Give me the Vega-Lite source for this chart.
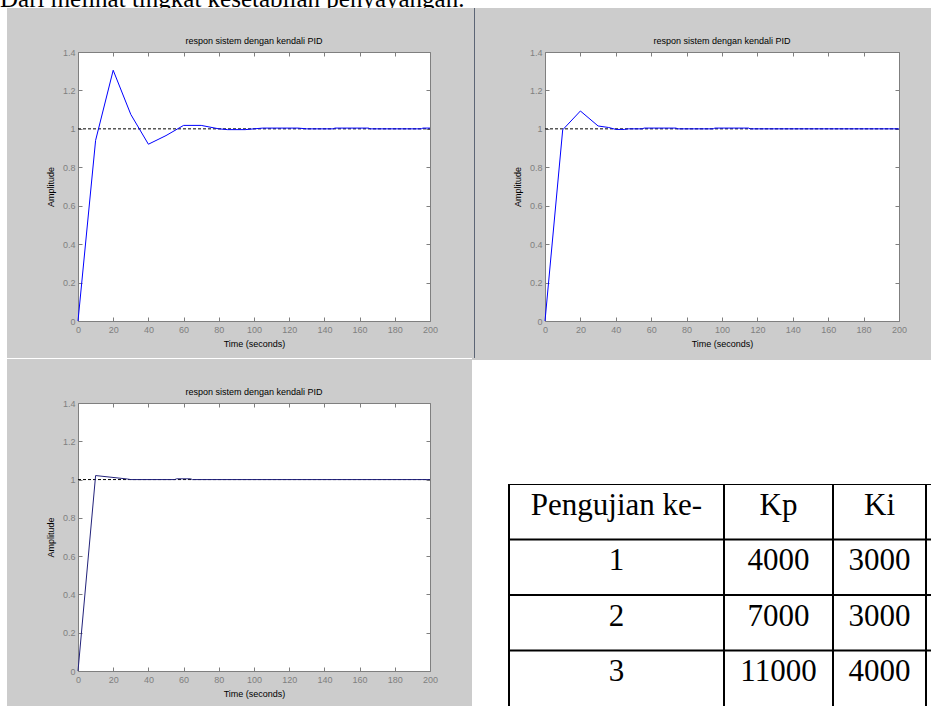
{
  "$schema": "https://vega.github.io/schema/vega-lite/v6.json",
  "background": "#cccccc",
  "padding": 0,
  "autosize": {"type": "pad"},
  "spacing": 0,
  "config": {
    "view": {"stroke": null},
    "font": "Liberation Sans",
    "concat": {"spacing": 0},
    "axis": {
      "labelColor": "#7f7f7f", "labelFont": "Liberation Sans", "labelFontSize": 9,
      "tickColor": "#7f7f7f", "tickWidth": 1,
      "titleColor": "black", "titleFont": "Liberation Sans", "titleFontSize": 9, "titleFontWeight": "normal",
      "grid": false, "domain": false
    },
    "title": {"font": "Liberation Sans", "fontSize": 9, "fontWeight": "normal", "color": "black", "offset": 2, "anchor": "middle", "frame": "group"}
  },
  "datasets": {
    "p1": [
      {"t": 0, "amp": 0}, {"t": 10, "amp": 0.94}, {"t": 20, "amp": 1.305}, {"t": 30, "amp": 1.075},
      {"t": 40, "amp": 0.92}, {"t": 50, "amp": 0.965}, {"t": 60, "amp": 1.018}, {"t": 70, "amp": 1.018},
      {"t": 80, "amp": 1.0}, {"t": 85, "amp": 0.996}, {"t": 95, "amp": 0.996}, {"t": 100, "amp": 1.0},
      {"t": 105, "amp": 1.004}, {"t": 125, "amp": 1.004}, {"t": 130, "amp": 1.0}, {"t": 145, "amp": 1.0},
      {"t": 146, "amp": 1.004}, {"t": 165, "amp": 1.004}, {"t": 166, "amp": 1.0}, {"t": 195, "amp": 1.0},
      {"t": 196, "amp": 1.004}, {"t": 200, "amp": 1.004}
    ],
    "p2": [
      {"t": 0, "amp": 0}, {"t": 10, "amp": 0.995}, {"t": 20, "amp": 1.093}, {"t": 30, "amp": 1.015},
      {"t": 36, "amp": 1.007}, {"t": 40, "amp": 0.997}, {"t": 45, "amp": 0.997}, {"t": 47, "amp": 1.0},
      {"t": 55, "amp": 1.0}, {"t": 56, "amp": 1.004}, {"t": 74, "amp": 1.004}, {"t": 75, "amp": 1.0},
      {"t": 95, "amp": 1.0}, {"t": 96, "amp": 1.004}, {"t": 115, "amp": 1.004}, {"t": 116, "amp": 1.0},
      {"t": 200, "amp": 1.0}
    ],
    "p3": [
      {"t": 0, "amp": 0}, {"t": 10, "amp": 1.021}, {"t": 28, "amp": 1.003}, {"t": 30, "amp": 1.0},
      {"t": 55, "amp": 1.0}, {"t": 56, "amp": 1.004}, {"t": 64, "amp": 1.004}, {"t": 65, "amp": 1.0},
      {"t": 200, "amp": 1.0}
    ],
    "tab": [
      {"row": "h", "no": "Pengujian ke-", "kp": "Kp", "ki": "Ki"},
      {"row": "1", "no": "1", "kp": "4000", "ki": "3000"},
      {"row": "2", "no": "2", "kp": "7000", "ki": "3000"},
      {"row": "3", "no": "3", "kp": "11000", "ki": "4000"}
    ]
  },
  "vconcat": [
    {
      "width": 931, "height": 8,
      "data": {"values": [{"sentence": "Dari melihat tingkat kesetabilan penyayangan."}]},
      "view": {"fill": "white", "stroke": null},
      "mark": {"type": "text", "clip": true, "font": "Liberation Serif", "fontSize": 25, "align": "left", "baseline": "alphabetic", "dy": 2.5, "color": "black"},
      "encoding": {
        "text": {"field": "sentence"},
        "x": {"datum": 0, "type": "quantitative", "scale": {"domain": [0, 1]}, "axis": null}
      }
    },
    {
      "spacing": 0,
      "hconcat": [
        {"width": 7, "height": 698, "data": {"values": []}, "mark": "point", "view": {"fill": "white", "stroke": null}},
        {
          "spacing": 0,
          "vconcat": [
            {"width": 1, "height": 28, "data": {"values": []}, "mark": "point"},
            {
              "spacing": 0,
              "hconcat": [
                {"width": 38, "height": 1, "data": {"values": []}, "mark": "point"},
                {
                  "width": 352, "height": 269,
                  "title": {"text": "respon sistem dengan kendali PID"},
                  "view": {"fill": "white", "stroke": "#7f7f7f"},
                  "layer": [
                    {
                      "data": {"values": [{"level": 1}]},
                      "mark": {"type": "rule", "color": "black", "strokeDash": [3, 2], "strokeWidth": 1},
                      "encoding": {
                        "x": {"datum": 0, "type": "quantitative", "scale": {"domain": [0, 200], "nice": false},
                              "axis": {"orient": "bottom", "values": [0, 20, 40, 60, 80, 100, 120, 140, 160, 180, 200], "format": "d", "title": "Time (seconds)", "labelFlush": false, "tickSize": -4, "labelPadding": 8, "titlePadding": 5}},
                        "x2": {"datum": 200},
                        "y": {"field": "level", "type": "quantitative", "scale": {"domain": [0, 1.4], "nice": false},
                              "axis": {"orient": "left", "values": [0, 0.2, 0.4, 0.6, 0.8, 1, 1.2, 1.4], "format": "~g", "title": "Amplitude", "tickSize": -4, "labelPadding": 7, "titlePadding": 7}}
                      }
                    },
                    {
                      "data": {"name": "p1"},
                      "mark": {"type": "line", "color": "#0000ff", "strokeWidth": 1},
                      "encoding": {
                        "x": {"field": "t", "type": "quantitative", "axis": {"orient": "top", "values": [0, 20, 40, 60, 80, 100, 120, 140, 160, 180, 200], "labels": false, "title": null, "tickSize": -4}},
                        "y": {"field": "amp", "type": "quantitative", "axis": {"orient": "right", "values": [0, 0.2, 0.4, 0.6, 0.8, 1, 1.2, 1.4], "labels": false, "title": null, "tickSize": -4}}
                      }
                    }
                  ],
                  "resolve": {"axis": {"x": "independent", "y": "independent"}}
                }
              ]
            },
            {"width": 1, "height": 9, "data": {"values": []}, "mark": "point"},
            {"width": 465, "height": 1, "data": {"values": []}, "mark": "point", "view": {"fill": "white", "stroke": null}},
            {"width": 1, "height": 28, "data": {"values": []}, "mark": "point"},
            {
              "spacing": 0,
              "hconcat": [
                {"width": 38, "height": 1, "data": {"values": []}, "mark": "point"},
                {
                  "width": 352, "height": 268,
                  "title": {"text": "respon sistem dengan kendali PID"},
                  "view": {"fill": "white", "stroke": "#7f7f7f"},
                  "layer": [
                    {
                      "data": {"values": [{"level": 1}]},
                      "mark": {"type": "rule", "color": "black", "strokeDash": [3, 2], "strokeWidth": 1},
                      "encoding": {
                        "x": {"datum": 0, "type": "quantitative", "scale": {"domain": [0, 200], "nice": false},
                              "axis": {"orient": "bottom", "values": [0, 20, 40, 60, 80, 100, 120, 140, 160, 180, 200], "format": "d", "title": "Time (seconds)", "labelFlush": false, "tickSize": -4, "labelPadding": 8, "titlePadding": 5}},
                        "x2": {"datum": 200},
                        "y": {"field": "level", "type": "quantitative", "scale": {"domain": [0, 1.4], "nice": false},
                              "axis": {"orient": "left", "values": [0, 0.2, 0.4, 0.6, 0.8, 1, 1.2, 1.4], "format": "~g", "title": "Amplitude", "tickSize": -4, "labelPadding": 7, "titlePadding": 7}}
                      }
                    },
                    {
                      "data": {"name": "p3"},
                      "mark": {"type": "line", "color": "#22227a", "strokeWidth": 1},
                      "encoding": {
                        "x": {"field": "t", "type": "quantitative", "axis": {"orient": "top", "values": [0, 20, 40, 60, 80, 100, 120, 140, 160, 180, 200], "labels": false, "title": null, "tickSize": -4}},
                        "y": {"field": "amp", "type": "quantitative", "axis": {"orient": "right", "values": [0, 0.2, 0.4, 0.6, 0.8, 1, 1.2, 1.4], "labels": false, "title": null, "tickSize": -4}}
                      }
                    }
                  ],
                  "resolve": {"axis": {"x": "independent", "y": "independent"}}
                }
              ]
            }
          ]
        },
        {
          "spacing": 0,
          "vconcat": [
            {
              "spacing": 0,
              "hconcat": [
                {"width": 2, "height": 1, "data": {"values": []}, "mark": "point"},
                {"width": 1, "height": 350, "data": {"values": []}, "mark": "point", "view": {"fill": "#5c6575", "stroke": null}},
                {"width": 37, "height": 1, "data": {"values": []}, "mark": "point"},
                {
                  "spacing": 0,
                  "vconcat": [
                    {"width": 1, "height": 28, "data": {"values": []}, "mark": "point"},
                    {
                      "width": 354, "height": 269,
                      "title": {"text": "respon sistem dengan kendali PID"},
                      "view": {"fill": "white", "stroke": "#7f7f7f"},
                      "layer": [
                        {
                          "data": {"values": [{"level": 1}]},
                          "mark": {"type": "rule", "color": "black", "strokeDash": [3, 2], "strokeWidth": 1},
                          "encoding": {
                            "x": {"datum": 0, "type": "quantitative", "scale": {"domain": [0, 200], "nice": false},
                                  "axis": {"orient": "bottom", "values": [0, 20, 40, 60, 80, 100, 120, 140, 160, 180, 200], "format": "d", "title": "Time (seconds)", "labelFlush": false, "tickSize": -4, "labelPadding": 8, "titlePadding": 5}},
                            "x2": {"datum": 200},
                            "y": {"field": "level", "type": "quantitative", "scale": {"domain": [0, 1.4], "nice": false},
                                  "axis": {"orient": "left", "values": [0, 0.2, 0.4, 0.6, 0.8, 1, 1.2, 1.4], "format": "~g", "title": "Amplitude", "tickSize": -4, "labelPadding": 7, "titlePadding": 7}}
                          }
                        },
                        {
                          "data": {"name": "p2"},
                          "mark": {"type": "line", "color": "#0000ff", "strokeWidth": 1},
                          "encoding": {
                            "x": {"field": "t", "type": "quantitative", "axis": {"orient": "top", "values": [0, 20, 40, 60, 80, 100, 120, 140, 160, 180, 200], "labels": false, "title": null, "tickSize": -4}},
                            "y": {"field": "amp", "type": "quantitative", "axis": {"orient": "right", "values": [0, 0.2, 0.4, 0.6, 0.8, 1, 1.2, 1.4], "labels": false, "title": null, "tickSize": -4}}
                          }
                        }
                      ],
                      "resolve": {"axis": {"x": "independent", "y": "independent"}}
                    }
                  ]
                }
              ]
            },
            {"width": 1, "height": 2, "data": {"values": []}, "mark": "point"},
            {
              "spacing": 0,
              "vconcat": [
                {"width": 459, "height": 124, "data": {"values": []}, "mark": "point", "view": {"fill": "white", "stroke": null}},
                {
                  "spacing": 0,
                  "hconcat": [
                    {
                      "width": 37, "height": 222,
                      "data": {"values": [{}]},
                      "view": {"fill": "white", "stroke": null},
                      "mark": {"type": "rule", "color": "black", "strokeWidth": 2, "clip": true},
                      "encoding": {"x": {"datum": 1, "type": "quantitative", "scale": {"domain": [0, 1]}, "axis": null}}
                    },
                    {
                      "width": 215, "height": 222,
                      "data": {"name": "tab"},
                      "view": {"fill": "white", "stroke": null},
                      "layer": [
                        {"mark": {"type": "rule", "color": "black", "strokeWidth": 2, "clip": true},
                         "encoding": {"y": {"field": "row", "type": "nominal", "bandPosition": 0, "scale": {"type": "band", "domain": ["h", "1", "2", "3"], "paddingInner": 0, "paddingOuter": 0}, "axis": null}}},
                        {"data": {"values": [{}]}, "mark": {"type": "rule", "color": "black", "strokeWidth": 2, "clip": true},
                         "encoding": {"x": {"datum": 0, "type": "quantitative", "scale": {"domain": [0, 1]}, "axis": null}}},
                        {"data": {"values": [{}]}, "mark": {"type": "rule", "color": "black", "strokeWidth": 2, "clip": true},
                         "encoding": {"x": {"datum": 1, "type": "quantitative", "axis": null}}},
                        {"mark": {"type": "text", "font": "Liberation Serif", "fontSize": 31, "color": "black", "baseline": "alphabetic", "dy": 3},
                         "encoding": {"y": {"field": "row", "type": "nominal", "axis": null}, "text": {"field": "no"}}}
                      ]
                    },
                    {
                      "width": 109, "height": 222,
                      "data": {"name": "tab"},
                      "view": {"fill": "white", "stroke": null},
                      "layer": [
                        {"mark": {"type": "rule", "color": "black", "strokeWidth": 2, "clip": true},
                         "encoding": {"y": {"field": "row", "type": "nominal", "bandPosition": 0, "scale": {"type": "band", "domain": ["h", "1", "2", "3"], "paddingInner": 0, "paddingOuter": 0}, "axis": null}}},
                        {"data": {"values": [{}]}, "mark": {"type": "rule", "color": "black", "strokeWidth": 2, "clip": true},
                         "encoding": {"x": {"datum": 0, "type": "quantitative", "scale": {"domain": [0, 1]}, "axis": null}}},
                        {"data": {"values": [{}]}, "mark": {"type": "rule", "color": "black", "strokeWidth": 2, "clip": true},
                         "encoding": {"x": {"datum": 1, "type": "quantitative", "axis": null}}},
                        {"mark": {"type": "text", "font": "Liberation Serif", "fontSize": 31, "color": "black", "baseline": "alphabetic", "dy": 3},
                         "encoding": {"y": {"field": "row", "type": "nominal", "axis": null}, "text": {"field": "kp"}}}
                      ]
                    },
                    {
                      "width": 93, "height": 222,
                      "data": {"name": "tab"},
                      "view": {"fill": "white", "stroke": null},
                      "layer": [
                        {"mark": {"type": "rule", "color": "black", "strokeWidth": 2, "clip": true},
                         "encoding": {"y": {"field": "row", "type": "nominal", "bandPosition": 0, "scale": {"type": "band", "domain": ["h", "1", "2", "3"], "paddingInner": 0, "paddingOuter": 0}, "axis": null}}},
                        {"data": {"values": [{}]}, "mark": {"type": "rule", "color": "black", "strokeWidth": 2, "clip": true},
                         "encoding": {"x": {"datum": 0, "type": "quantitative", "scale": {"domain": [0, 1]}, "axis": null}}},
                        {"data": {"values": [{}]}, "mark": {"type": "rule", "color": "black", "strokeWidth": 2, "clip": true},
                         "encoding": {"x": {"datum": 1, "type": "quantitative", "axis": null}}},
                        {"mark": {"type": "text", "font": "Liberation Serif", "fontSize": 31, "color": "black", "baseline": "alphabetic", "dy": 3},
                         "encoding": {"y": {"field": "row", "type": "nominal", "axis": null}, "text": {"field": "ki"}}}
                      ]
                    },
                    {
                      "width": 5, "height": 222,
                      "data": {"name": "tab"},
                      "view": {"fill": "white", "stroke": null},
                      "layer": [
                        {"mark": {"type": "rule", "color": "black", "strokeWidth": 2, "clip": true},
                         "encoding": {"y": {"field": "row", "type": "nominal", "bandPosition": 0, "scale": {"type": "band", "domain": ["h", "1", "2", "3"], "paddingInner": 0, "paddingOuter": 0}, "axis": null}}},
                        {"data": {"values": [{}]}, "mark": {"type": "rule", "color": "black", "strokeWidth": 2, "clip": true},
                         "encoding": {"x": {"datum": 0, "type": "quantitative", "scale": {"domain": [0, 1]}, "axis": null}}}
                      ]
                    }
                  ]
                }
              ]
            }
          ]
        }
      ]
    }
  ]
}
